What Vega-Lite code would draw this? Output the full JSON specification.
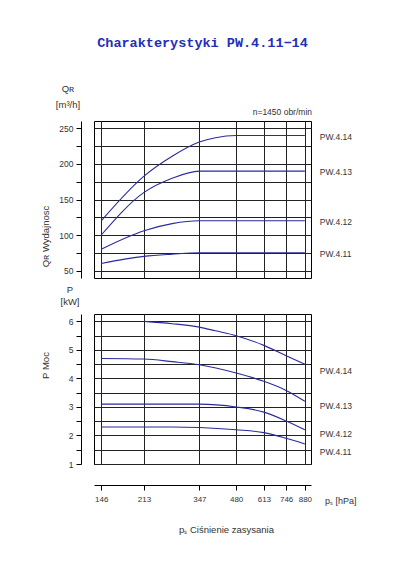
{
  "$schema": "https://vega.github.io/schema/vega-lite/v6.json",
  "background": "white",
  "padding": {"left": 39, "top": 36, "right": 5, "bottom": 5},
  "title": {
    "text": "Charakterystyki PW.4.11−14",
    "font": "Liberation Mono",
    "fontSize": 13.5,
    "fontWeight": "bold",
    "color": "#1f2fb8",
    "anchor": "middle",
    "frame": "group",
    "offset": 34
  },
  "config": {
    "view": {"stroke": "#000", "strokeWidth": 1},
    "axis": {
      "domainColor": "#000",
      "tickColor": "#000",
      "tickSize": 5,
      "tickCount": 30,
      "labelOverlap": false,
      "gridColor": "#222",
      "gridWidth": 1,
      "gridOpacity": 1,
      "labelFont": "Liberation Sans",
      "labelColor": "#333",
      "titleFont": "Liberation Sans",
      "titleFontWeight": "normal",
      "titleColor": "#333",
      "titleFontSize": 9.5
    },
    "text": {"font": "Liberation Sans", "color": "#333"}
  },
  "datasets": {
    "curves": [
      {"series": "PW.4.14", "p": 146, "Q": 120, "P": null},
      {"series": "PW.4.14", "p": 213, "Q": 183, "P": 6.0},
      {"series": "PW.4.14", "p": 273, "Q": 211, "P": 5.92},
      {"series": "PW.4.14", "p": 347, "Q": 231, "P": 5.8},
      {"series": "PW.4.14", "p": 400, "Q": 237, "P": 5.67},
      {"series": "PW.4.14", "p": 480, "Q": 240, "P": 5.5},
      {"series": "PW.4.14", "p": 613, "Q": 240, "P": 5.16},
      {"series": "PW.4.14", "p": 746, "Q": 240, "P": 4.8},
      {"series": "PW.4.14", "p": 880, "Q": 240, "P": 4.5},
      {"series": "PW.4.13", "p": 146, "Q": 100, "P": 4.7},
      {"series": "PW.4.13", "p": 213, "Q": 160, "P": 4.68},
      {"series": "PW.4.13", "p": 273, "Q": 180, "P": 4.59},
      {"series": "PW.4.13", "p": 347, "Q": 190, "P": 4.48},
      {"series": "PW.4.13", "p": 480, "Q": 190, "P": 4.19},
      {"series": "PW.4.13", "p": 613, "Q": 190, "P": 3.9},
      {"series": "PW.4.13", "p": 746, "Q": 190, "P": 3.58},
      {"series": "PW.4.13", "p": 880, "Q": 190, "P": 3.2},
      {"series": "PW.4.12", "p": 146, "Q": 80, "P": 3.1},
      {"series": "PW.4.12", "p": 213, "Q": 106, "P": 3.1},
      {"series": "PW.4.12", "p": 273, "Q": 116, "P": 3.1},
      {"series": "PW.4.12", "p": 347, "Q": 120, "P": 3.1},
      {"series": "PW.4.12", "p": 480, "Q": 120, "P": 3.0},
      {"series": "PW.4.12", "p": 613, "Q": 120, "P": 2.82},
      {"series": "PW.4.12", "p": 746, "Q": 120, "P": 2.51},
      {"series": "PW.4.12", "p": 880, "Q": 120, "P": 2.2},
      {"series": "PW.4.11", "p": 146, "Q": 60, "P": 2.3},
      {"series": "PW.4.11", "p": 213, "Q": 70, "P": 2.3},
      {"series": "PW.4.11", "p": 273, "Q": 73, "P": 2.3},
      {"series": "PW.4.11", "p": 347, "Q": 75, "P": 2.28},
      {"series": "PW.4.11", "p": 480, "Q": 75, "P": 2.2},
      {"series": "PW.4.11", "p": 613, "Q": 75, "P": 2.1},
      {"series": "PW.4.11", "p": 746, "Q": 75, "P": 1.9},
      {"series": "PW.4.11", "p": 880, "Q": 75, "P": 1.7}
    ],
    "plabels": [
      {"series": "PW.4.14", "P": 4.27},
      {"series": "PW.4.13", "P": 3.02},
      {"series": "PW.4.12", "P": 2.05},
      {"series": "PW.4.11", "P": 1.42}
    ]
  },
  "bounds": "flush",
  "spacing": 36,
  "resolve": {"scale": {"x": "independent", "y": "independent"}},
  "vconcat": [
    {
      "width": 217,
      "height": 157,
      "layer": [
        {
          "data": {"name": "curves"},
          "mark": {"type": "line", "interpolate": "monotone", "color": "#2a2a9c", "strokeWidth": 1.1},
          "encoding": {
            "x": {
              "field": "p", "type": "quantitative",
              "scale": {"type": "log", "domain": [137, 929], "nice": false, "zero": false},
              "axis": {"values": [146, 213, 347, 480, 613, 746, 880], "grid": true, "labels": false, "ticks": false, "domain": false, "title": null}
            },
            "y": {
              "field": "Q", "type": "quantitative",
              "scale": {"domain": [39.5, 260.5], "nice": false, "zero": false},
              "axis": {
                "values": [50, 75, 100, 125, 150, 175, 200, 225, 250],
                "format": "d",
                "labelExpr": "datum.value % 50 == 0 ? datum.label : ''",
                "labelFontSize": 8.5,
                "labelPadding": 3,
                "offset": 13,
                "grid": true,
                "title": "Qʀ  Wydajnosc",
                "titleAngle": 270,
                "titleX": -36,
                "titleY": 115,
                "titleAlign": "center",
                "titleBaseline": "middle"
              }
            },
            "detail": {"field": "series"}
          }
        },
        {
          "data": {"name": "curves"},
          "transform": [{"filter": "datum.p == 880"}],
          "mark": {"type": "text", "align": "left", "baseline": "middle", "dx": 15, "dy": 1, "fontSize": 8.5},
          "encoding": {
            "x": {"field": "p", "type": "quantitative"},
            "y": {"field": "Q", "type": "quantitative"},
            "text": {"field": "series"}
          }
        },
        {
          "data": {"values": [{"t": "n=1450  obr/min"}]},
          "mark": {"type": "text", "align": "right", "baseline": "middle", "dx": 1, "dy": -9, "fontSize": 8.5},
          "encoding": {
            "x": {"datum": 929, "type": "quantitative"},
            "y": {"datum": 260.5, "type": "quantitative"},
            "text": {"field": "t"}
          }
        },
        {
          "data": {"values": [{"t": "Qʀ", "o": -32}, {"t": "[m³/h]", "o": -16}]},
          "mark": {"type": "text", "align": "center", "baseline": "middle", "dx": -26, "fontSize": 9.5},
          "encoding": {
            "x": {"datum": 137, "type": "quantitative"},
            "y": {"datum": 260.5, "type": "quantitative"},
            "yOffset": {"field": "o", "type": "quantitative", "scale": null},
            "text": {"field": "t"}
          }
        }
      ]
    },
    {
      "width": 217,
      "height": 150,
      "layer": [
        {
          "data": {"name": "curves"},
          "mark": {"type": "line", "interpolate": "monotone", "color": "#2a2a9c", "strokeWidth": 1.1},
          "encoding": {
            "x": {
              "field": "p", "type": "quantitative",
              "scale": {"type": "log", "domain": [137, 929], "nice": false, "zero": false},
              "axis": {
                "values": [146, 213, 347, 480, 613, 746, 880],
                "format": "d",
                "grid": true,
                "offset": 21,
                "labelFontSize": 8,
                "labelPadding": 5,
                "title": "pₛ  Ciśnienie  zasysania",
                "titleX": 132,
                "titleY": 44,
                "titleAlign": "center",
                "titleBaseline": "middle"
              }
            },
            "y": {
              "field": "P", "type": "quantitative",
              "scale": {"domain": [1, 6.26], "nice": false, "zero": false},
              "axis": {
                "values": [1, 1.5, 2, 2.5, 3, 3.5, 4, 4.5, 5, 5.5, 6],
                "format": ".1f",
                "labelExpr": "datum.value % 1 == 0 ? format(datum.value, 'd') : ''",
                "labelFontSize": 8.5,
                "labelPadding": 3,
                "offset": 13,
                "grid": true,
                "title": "P  Moc",
                "titleAngle": 270,
                "titleX": -36,
                "titleY": 51,
                "titleAlign": "center",
                "titleBaseline": "middle"
              }
            },
            "detail": {"field": "series"}
          }
        },
        {
          "data": {"name": "plabels"},
          "mark": {"type": "text", "align": "left", "baseline": "middle", "dx": 15, "fontSize": 8.5},
          "encoding": {
            "x": {"datum": 880, "type": "quantitative"},
            "y": {"field": "P", "type": "quantitative"},
            "text": {"field": "series"}
          }
        },
        {
          "data": {"values": [{"t": "pₛ [hPa]"}]},
          "mark": {"type": "text", "align": "left", "baseline": "middle", "dx": 14, "dy": 37, "fontSize": 9},
          "encoding": {
            "x": {"datum": 929, "type": "quantitative"},
            "y": {"datum": 1, "type": "quantitative"},
            "text": {"field": "t"}
          }
        },
        {
          "data": {"values": [{"t": "P", "o": -24}, {"t": "[kW]", "o": -12}]},
          "mark": {"type": "text", "align": "center", "baseline": "middle", "dx": -24, "fontSize": 9.5},
          "encoding": {
            "x": {"datum": 137, "type": "quantitative"},
            "y": {"datum": 6.26, "type": "quantitative"},
            "yOffset": {"field": "o", "type": "quantitative", "scale": null},
            "text": {"field": "t"}
          }
        }
      ]
    }
  ]
}
